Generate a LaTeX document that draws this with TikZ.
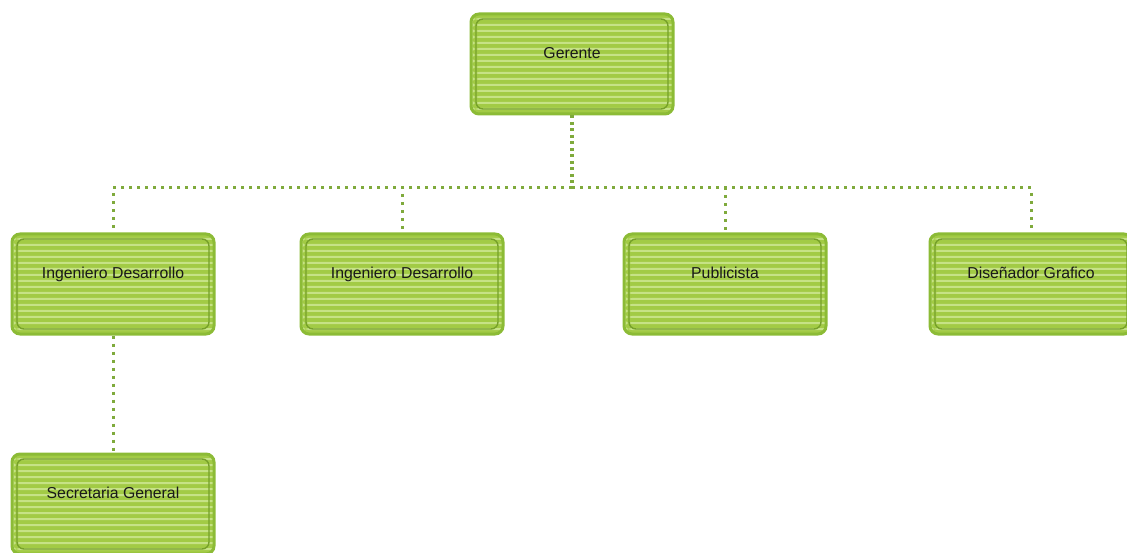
\documentclass[tikz,border=0pt]{standalone}
\usepackage{fontspec}
\setmainfont{Liberation Sans}
\definecolor{boxfill}{HTML}{A2CB45}
\definecolor{boxstripe}{HTML}{C6E286}
\definecolor{boxedge}{HTML}{8CBB36}
\definecolor{boxinner}{HTML}{76A02A}
\definecolor{dotcol}{HTML}{7FAA3C}
\tikzset{
  orgbox/.style={draw=boxedge, line width=3pt, fill=boxfill, rounded corners=8pt,
    minimum width=202pt, minimum height=100pt, inner sep=0pt,
    font=\fontsize{15.8}{18}\selectfont, text=black!90, text depth=22pt,
    path picture={
      \foreach \k in {0,...,17}{
        \fill[boxstripe] ([yshift={-\k*6pt-4pt}]path picture bounding box.north west) rectangle ++(215pt,-2pt);
      }
      \draw[boxinner, line width=1.4pt, rounded corners=7pt]
        ([shift={(5pt,-5pt)}]path picture bounding box.north west) rectangle
        ([shift={(-5pt,5pt)}]path picture bounding box.south east);
    }},
  link/.style={draw=dotcol, line width=3pt, dash pattern=on 3pt off 5pt},
  toplink/.style={draw=dotcol, line width=3.6pt, dash pattern=on 3pt off 3.5pt}
}
\begin{document}
\begin{tikzpicture}
\useasboundingbox (0,0) rectangle (1127pt,-553pt);
\node[orgbox] (g) at (572pt,-64pt) {Gerente};
\node[orgbox] (i1) at (113pt,-284pt) {Ingeniero Desarrollo};
\node[orgbox] (i2) at (402pt,-284pt) {Ingeniero Desarrollo};
\node[orgbox] (p) at (725pt,-284pt) {Publicista};
\node[orgbox] (d) at (1031pt,-284pt) {Diseñador Grafico};
\node[orgbox] (s) at (113pt,-504pt) {Secretaria General};
\coordinate (bus) at (572pt,-188pt);
\draw[toplink] (g.south) -- (bus);
\draw[link] (bus) -| (i1.north);
\draw[link] (bus) -| (i2.north);
\draw[link] (bus) -| (p.north);
\draw[link] (bus) -| (d.north);
\draw[link] (i1.south) -- (s.north);
\end{tikzpicture}
\end{document}
